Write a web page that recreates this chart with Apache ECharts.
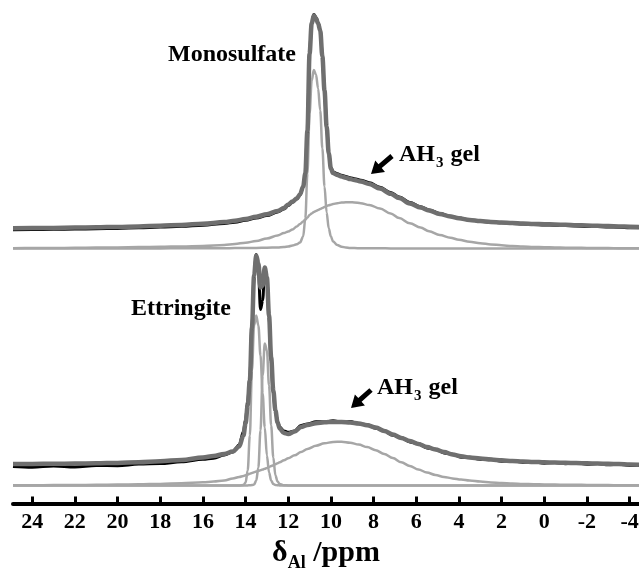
<!DOCTYPE html>
<html lang="en">
<head>
<meta charset="UTF-8">
<title>27Al MAS NMR</title>
<script src="https://cdn.jsdelivr.net/npm/echarts@6/dist/echarts.min.js"></script>
<style>html, body { margin: 0; padding: 0; background: #fff; }</style>
</head>
<body>
<div id="main" style="width: 639px; height: 571px;"></div>
<script type="text/javascript">
// x axis tick labels (ppm)
var tickValues = [24, 22, 20, 18, 16, 14, 12, 10, 8, 6, 4, 2, 0, -2, -4];

// ---- top spectrum (monosulfate) ----
var ppmTop = [
    24.9, 24, 23, 22, 21, 20, 19, 18, 17, 16,
    15, 14.5, 14, 13.5, 13, 12.5, 12.2, 12, 11.8, 11.6,
    11.45, 11.3, 11.2, 11.1, 11.0, 10.9, 10.8, 10.7, 10.6, 10.5,
    10.4, 10.3, 10.2, 10.1, 10.0, 9.9, 9.7, 9.5, 9.3, 9.1,
    8.9, 8.6, 8.2, 7.7, 7.2, 6.8, 6.3, 5.8, 5.4, 4.9,
    4.4, 4.0, 3.5, 3.0, 2.5, 2.0, 1.5, 1.0, 0.5, 0,
    -0.5, -1, -1.5, -2, -2.5, -3, -3.5, -4, -4.44
];
var topData = [
    18.8, 19.0, 19.2, 19.4, 19.8, 20.1, 20.7, 21.4, 22.2, 23.3,
    25.0, 26.3, 28.2, 30.5, 33.0, 36.4, 39.4, 43.0, 46.2, 49.4,
    53.5, 61.8, 75, 119, 196, 226, 234, 231, 226, 219,
    193, 158, 122, 95.5, 81, 76.5, 74.8, 73.2, 72, 70.8,
    69.8, 68.2, 65.8, 61.3, 56, 51.5, 46, 41.8, 38.6, 35,
    32.3, 30.4, 28.6, 27.3, 26.3, 25.7, 25.1, 24.5, 24.1, 23.6,
    23.3, 22.9, 22.6, 22.1, 21.9, 21.5, 21.3, 20.8, 20.7
];
var topFit = [
    20.2, 20.4, 20.6, 20.9, 21.2, 21.6, 22.1, 22.8, 23.6, 24.7,
    26.4, 27.7, 29.5, 31.8, 34.2, 37.5, 40.5, 44, 47, 50,
    54, 62, 75, 118, 195, 225, 233, 230, 225, 218,
    192, 158, 122, 95, 80, 75.5, 73.5, 72, 70.8, 69.5,
    68.5, 67, 64.5, 60, 54.7, 50.5, 45, 41, 38, 34.5,
    32, 30.2, 28.5, 27.4, 26.5, 26, 25.5, 25, 24.6, 24.3,
    24, 23.7, 23.3, 23, 22.7, 22.4, 22.1, 21.8, 21.6
];
var topMono = [
    0, 0, 0, 0, 0.1, 0.1, 0.1, 0.1, 0.2, 0.2,
    0.3, 0.4, 0.5, 0.6, 0.8, 1.0, 1.5, 2.0, 3.0, 4.2,
    6, 12, 30, 75, 135, 168, 178.5, 174, 160, 138,
    100, 62, 36, 20, 12, 7, 3.5, 1.8, 1.0, 0.6,
    0.4, 0.3, 0.2, 0.2, 0.1, 0.1, 0.1, 0.1, 0, 0,
    0, 0, 0, 0, 0, 0, 0, 0, 0, 0,
    0, 0, 0, 0, 0, 0, 0, 0, 0
];
var topGel = [
    0.3, 0.4, 0.5, 0.7, 0.9, 1.1, 1.4, 1.7, 2.1, 2.6,
    3.6, 4.5, 5.8, 7.5, 10, 13, 15.5, 17, 19, 22,
    24.5, 27, 29, 31, 33.5, 35, 36.5, 37.5, 38.5, 39.5,
    40.5, 41.5, 42.5, 43.2, 43.8, 44.5, 45.3, 45.9, 46.2, 46.3,
    46.1, 45.3, 43.5, 40, 35, 30.5, 25.2, 21, 17.2, 13.5,
    10.8, 8.7, 6.8, 5.3, 4.1, 3.2, 2.5, 2.0, 1.6, 1.3,
    1.0, 0.8, 0.7, 0.6, 0.5, 0.4, 0.35, 0.3, 0.25
];

// ---- bottom spectrum (ettringite) ----
var ppmBot = [
    24.9, 24, 23, 22, 21, 20, 19, 18, 17, 16,
    15.5, 15, 14.6, 14.3, 14.1, 14.0, 13.9, 13.8, 13.7, 13.6,
    13.5, 13.4, 13.3, 13.2, 13.1, 13.0, 12.9, 12.8, 12.7, 12.6,
    12.5, 12.4, 12.2, 12.0, 11.7, 11.4, 11.1, 10.7, 10.3, 9.9,
    9.5, 9.1, 8.7, 8.3, 7.9, 7.5, 7.1, 6.7, 6.3, 5.9,
    5.5, 5.1, 4.7, 4.3, 3.9, 3.5, 3.0, 2.5, 2.0, 1.5,
    1.0, 0.5, 0, -0.5, -1, -1.5, -2, -2.5, -3, -3.5,
    -4, -4.44
];
var botData = [
    19.0, 18.2, 19.6, 18.6, 20.1, 19.8, 21.4, 21.9, 23.8, 26.2,
    27.2, 30.4, 33.5, 40.5, 54, 66, 84, 108, 160, 210,
    231, 216, 176, 185, 217, 207, 168, 124, 92, 74,
    64, 58.5, 54.5, 53.2, 54.5, 60, 61.5, 63.8, 63.5, 64.8,
    63.2, 64, 61.8, 60.8, 57.2, 54.8, 50.2, 47.8, 43.6, 41.8,
    37.6, 36.2, 32.6, 31.3, 28.3, 28.2, 26.1, 26.3, 24.3, 24.6,
    23.1, 23.8, 22.3, 23.1, 21.8, 22.5, 21.3, 21.9, 20.8, 21.3,
    20.1, 20.3
];
var botFit = [
    21.5, 21.6, 21.7, 21.9, 22.2, 22.6, 23.3, 24.3, 25.6, 28,
    29.5, 31.5, 34, 39, 50, 62, 80, 105, 158, 210,
    230, 222, 198, 200, 218, 208, 170, 128, 95, 75,
    63, 57, 52.5, 51.5, 54, 58.5, 60.5, 62.3, 63.2, 63.6,
    63.5, 63, 62, 60.3, 58, 54.5, 51, 47.5, 44.5, 41.5,
    38.5, 36, 33.5, 31, 29.2, 28, 27, 26, 25.2, 24.5,
    24, 23.6, 23.2, 23, 22.7, 22.5, 22.2, 22, 21.7, 21.4,
    21, 20.7
];
var botEtt1 = [
    0, 0, 0, 0, 0, 0, 0, 0, 0, 0,
    0, 0, 0, 0.1, 0.5, 3, 15, 50, 115, 160,
    170, 160, 130, 92, 58, 30, 13, 5, 1.5, 0.5,
    0.2, 0.1, 0, 0, 0, 0, 0, 0, 0, 0,
    0, 0, 0, 0, 0, 0, 0, 0, 0, 0,
    0, 0, 0, 0, 0, 0, 0, 0, 0, 0,
    0, 0, 0, 0, 0, 0, 0, 0, 0, 0,
    0, 0
];
var botEtt2 = [
    0, 0, 0, 0, 0, 0, 0, 0, 0, 0,
    0, 0, 0, 0, 0, 0, 0.1, 0.2, 0.4, 1,
    5, 18, 55, 110, 142, 135, 100, 60, 28, 10,
    4, 1.5, 0.3, 0, 0, 0, 0, 0, 0, 0,
    0, 0, 0, 0, 0, 0, 0, 0, 0, 0,
    0, 0, 0, 0, 0, 0, 0, 0, 0, 0,
    0, 0, 0, 0, 0, 0, 0, 0, 0, 0,
    0, 0
];
var botGel = [
    0.2, 0.3, 0.4, 0.5, 0.7, 0.9, 1.2, 1.6, 2.2, 3.2,
    4, 5, 7, 8.5, 9.5, 10.2, 11, 11.8, 12.5, 13.2,
    13.9, 14.6, 15.3, 16, 16.8, 17.6, 18.5, 19.4, 20.3, 21.2,
    22.2, 23.2, 25.3, 27.3, 30.2, 33.5, 36.5, 39.8, 42.2, 43.5,
    43.8, 42.8, 41, 38.4, 35.2, 31.5, 27.5, 23.2, 19.5, 16,
    13, 10.5, 8.6, 7.1, 5.9, 4.9, 3.9, 3.1, 2.5, 2,
    1.6, 1.3, 1.1, 0.9, 0.8, 0.7, 0.6, 0.5, 0.4, 0.35,
    0.3, 0.3
];

// vertical stacking of the two spectra (intensity units = px)
var TOP_BASE = 255;
var BOT_BASE = 18;

var SERIF = '"Liberation Serif", "Times New Roman", serif';

function pairs(ppm, vals, base) {
    return ppm.map(function (p, i) { return [p, base + vals[i]]; });
}

function line(name, data, color, width, z) {
    return {
        name: name,
        type: 'line',
        data: data,
        symbol: 'none',
        smooth: 0.35,
        smoothMonotone: 'x',
        z: z,
        lineStyle: { color: color, width: width },
        silent: true
    };
}

// arrow polygon from tail to tip (annotation only)
function arrow(tx, ty, hx, hy) {
    var dx = hx - tx, dy = hy - ty;
    var len = Math.sqrt(dx * dx + dy * dy);
    var ux = dx / len, uy = dy / len, nx = -uy, ny = ux;
    var bx = hx - ux * 12, by = hy - uy * 12;
    var w = 2.5, hw = 7.5;
    return [
        [tx + nx * w, ty + ny * w],
        [bx + nx * w, by + ny * w],
        [bx + nx * hw, by + ny * hw],
        [hx, hy],
        [bx - nx * hw, by - ny * hw],
        [bx - nx * w, by - ny * w],
        [tx - nx * w, ty - ny * w]
    ];
}

var labelRich = {
    a: { fontFamily: SERIF, fontWeight: 'bold', fontSize: 24, lineHeight: 24, verticalAlign: 'top', fill: '#000' },
    s: { fontFamily: SERIF, fontWeight: 'bold', fontSize: 15, lineHeight: 15, verticalAlign: 'top', padding: [13, 1, 0, 1], fill: '#000' }
};

var myChart = echarts.init(document.getElementById('main'));

var option = {
    backgroundColor: '#fff',
    animation: false,
    grid: { left: 13, right: 0, top: 0, bottom: 67.5, outerBoundsMode: 'none', containLabel: false },
    xAxis: {
        type: 'value',
        inverse: true,
        min: -4.44,
        max: 24.9,
        name: '{d|δ}{s|Al}{d| /ppm}',
        nameLocation: 'middle',
        nameGap: 30,
        nameTextStyle: {
            rich: {
                d: { fontFamily: SERIF, fontWeight: 'bold', fontSize: 30, lineHeight: 30, verticalAlign: 'top', color: '#000' },
                s: { fontFamily: SERIF, fontWeight: 'bold', fontSize: 18, lineHeight: 18, verticalAlign: 'top', padding: [16, 0, 0, 0], color: '#000' }
            }
        },
        axisLine: { show: true, onZero: false, lineStyle: { color: '#000', width: 4 } },
        axisTick: {
            show: true, inside: true, length: 7,
            customValues: tickValues,
            lineStyle: { color: '#000', width: 3 }
        },
        axisLabel: {
            customValues: tickValues,
            margin: 8,
            fontFamily: SERIF, fontWeight: 'bold', fontSize: 22, color: '#000'
        },
        splitLine: { show: false }
    },
    yAxis: {
        type: 'value',
        min: 0,
        max: 503.5,
        show: false
    },
    graphic: [
        { type: 'text', x: 168, y: 43, style: { text: 'Monosulfate', font: 'bold 24px ' + SERIF, fill: '#000' } },
        { type: 'text', x: 131, y: 297, style: { text: 'Ettringite', font: 'bold 24px ' + SERIF, fill: '#000' } },
        { type: 'text', x: 399, y: 143, style: { text: '{a|AH}{s|3}{a| gel}', rich: labelRich } },
        { type: 'text', x: 377, y: 376, style: { text: '{a|AH}{s|3}{a| gel}', rich: labelRich } },
        { type: 'polygon', shape: { points: arrow(392, 156, 371, 174) }, style: { fill: '#000' } },
        { type: 'polygon', shape: { points: arrow(371, 390, 351, 408) }, style: { fill: '#000' } }
    ],
    series: [
        line('Monosulfate component', pairs(ppmTop, topMono, TOP_BASE), '#a6a6a6', 2.5, 1),
        line('AH3 gel component (top)', pairs(ppmTop, topGel, TOP_BASE), '#a6a6a6', 2.5, 1),
        line('Experimental (top)', pairs(ppmTop, topData, TOP_BASE), '#000', 3, 2),
        line('Fit (top)', pairs(ppmTop, topFit, TOP_BASE), '#6f6f6f', 4.5, 3),
        line('Ettringite component 1', pairs(ppmBot, botEtt1, BOT_BASE), '#a6a6a6', 2.5, 1),
        line('Ettringite component 2', pairs(ppmBot, botEtt2, BOT_BASE), '#a6a6a6', 2.5, 1),
        line('AH3 gel component (bottom)', pairs(ppmBot, botGel, BOT_BASE), '#a6a6a6', 2.5, 1),
        line('Experimental (bottom)', pairs(ppmBot, botData, BOT_BASE), '#000', 3, 2),
        line('Fit (bottom)', pairs(ppmBot, botFit, BOT_BASE), '#6f6f6f', 4.5, 3)
    ]
};

myChart.setOption(option);
</script>
</body>
</html>
